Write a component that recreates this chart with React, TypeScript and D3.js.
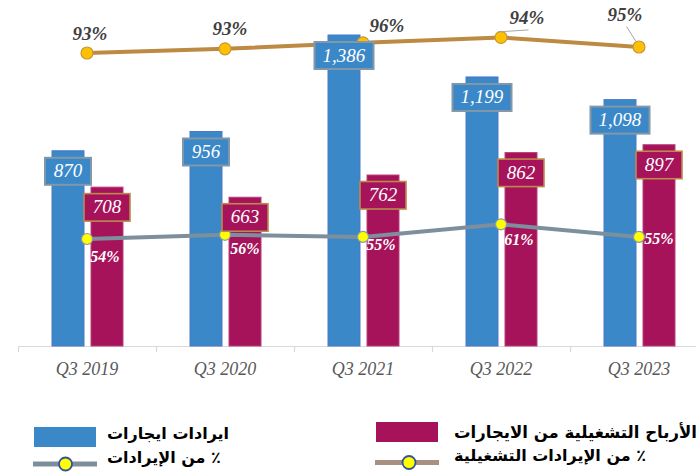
import React from "react";
import * as d3 from "d3";

// ---- data ----
const categories = ["Q3 2019", "Q3 2020", "Q3 2021", "Q3 2022", "Q3 2023"];
const rentalRevenue = [870, 956, 1386, 1199, 1098];
const operatingProfit = [708, 663, 762, 862, 897];
// % of revenues (grey line)
const pctOfRevenue = [54, 56, 55, 61, 55];
const pctOfRevenueLabels = ["54%", "56%", "55%", "61%", "55%"];
// % of operating revenues (gold line) – plotted values
const pctOfOperating = [94.0, 94.7, 95.7, 96.6, 95.0];
const pctOfOperatingLabels = ["93%", "93%", "96%", "94%", "95%"];

const seriesKeys = ["rev", "op"];
const legendRevenue = "ايرادات ايجارات";
const legendProfit = "الأرباح التشغيلية من الايجارات";
const legendPctRevenue = "٪ من الإيرادات";
const legendPctOperating = "٪ من الإيرادات التشغيلية";

// ---- label placement (style, not data) ----
const goldLabelOffsets: [number, number][] = [[3, -20], [5, -20], [24, -17], [26, -20], [-14, -33]];
const greyLabelOffsets: [number, number][] = [[18, 17], [20, 14], [18, 8], [18, 15], [20, 2]];

const W = 696, H = 473;
const BLUE = "#3a88c8";
const CRIMSON = "#a6135a";
const GOLD_LINE = "#bd8a44";
const GREY_LINE = "#7d8f9c";

const serif = "'Liberation Serif', 'Times New Roman', serif";
const arabic = "'DejaVu Sans', sans-serif";

export default function App() {
  const x0 = d3.scaleBand<string>().domain(categories).range([18, 708]).padding(0);
  const x1 = d3.scaleBand<string>().domain(seriesKeys).range([-35, 36]).paddingInner(0.18);
  const y = d3.scaleLinear().domain([0, 1542]).range([346, 0]);
  const yPct = d3.scaleLinear().domain([0, 100]).range([352.4, 142.4]);
  const yGold = d3.scaleLinear().domain([90, 100]).range([77, 17]);

  const cx = (c: string) => (x0(c) as number) + x0.bandwidth() / 2;

  const greyLine = d3
    .line<number>()
    .x((_, i) => cx(categories[i]))
    .y((v) => yPct(v));
  const goldLine = d3
    .line<number>()
    .x((_, i) => cx(categories[i]))
    .y((v) => yGold(v));

  const fmt = d3.format(",");
  const boxW = (s: string) => {
    const digits = s.replace(/[^0-9]/g, "").length;
    const commas = s.length - digits;
    return 16 + 10 * digits + 3 * commas;
  };

  const bars = categories.map((c, i) => ({
    c,
    rev: rentalRevenue[i],
    op: operatingProfit[i],
  }));

  const ticks = categories.map((c) => x0(c) as number);

  return (
    <svg
      width={W}
      height={H}
      style={{ position: "absolute", left: 0, top: 0, background: "#fff" }}
    >
      {/* axis */}
      <line x1={18} x2={W} y1={346.5} y2={346.5} stroke="#d9d9d9" strokeWidth={1.2} />
      {ticks.map((t, i) => (
        <line key={i} x1={t + 0.5} x2={t + 0.5} y1={346} y2={352} stroke="#d9d9d9" strokeWidth={1.2} />
      ))}
      {categories.map((c) => (
        <text
          key={c}
          x={cx(c)}
          y={375}
          textAnchor="middle"
          fontFamily={serif}
          fontStyle="italic"
          fontSize={18}
          fill="#595959"
        >
          {c}
        </text>
      ))}

      {/* bars */}
      {bars.map((b) => {
        const bx = cx(b.c);
        return (
          <g key={b.c}>
            <rect
              x={bx + (x1("rev") as number)}
              y={y(b.rev)}
              width={x1.bandwidth()}
              height={y(0) - y(b.rev)}
              fill={BLUE}
              stroke="#4a78c6"
              strokeWidth={1}
            />
            <rect
              x={bx + (x1("op") as number)}
              y={y(b.op)}
              width={x1.bandwidth()}
              height={y(0) - y(b.op)}
              fill={CRIMSON}
              stroke="#b8407a"
              strokeWidth={1}
            />
          </g>
        );
      })}

      {/* gold line */}
      <path d={goldLine(pctOfOperating) || ""} fill="none" stroke={GOLD_LINE} strokeWidth={4} />
      {pctOfOperating.map((v, i) => (
        <circle
          key={i}
          cx={cx(categories[i])}
          cy={yGold(v)}
          r={6}
          fill="#ffc000"
          stroke="#c8963a"
          strokeWidth={1.2}
        />
      ))}

      {/* grey line */}
      <path d={greyLine(pctOfRevenue) || ""} fill="none" stroke={GREY_LINE} strokeWidth={4} />
      {pctOfRevenue.map((v, i) => (
        <circle
          key={i}
          cx={cx(categories[i])}
          cy={yPct(v)}
          r={5.5}
          fill="#ffff00"
          stroke="#8a9aa6"
          strokeWidth={1.2}
        />
      ))}

      {/* bar value labels */}
      {bars.map((b) => {
        const bx = cx(b.c);
        const revX = bx + (x1("rev") as number) + x1.bandwidth() / 2;
        const opX = bx + (x1("op") as number) + x1.bandwidth() / 2;
        const rs = fmt(b.rev);
        const os = fmt(b.op);
        const rw = boxW(rs);
        const ow = boxW(os);
        const ry = y(b.rev) + 7;
        const oy = y(b.op) + 6.5;
        return (
          <g key={b.c}>
            <rect x={revX - rw / 2} y={ry} width={rw} height={27} fill={BLUE} stroke="#8297a8" strokeWidth={2} />
            <text
              x={revX}
              y={ry + 19.5}
              textAnchor="middle"
              fontFamily={serif}
              fontStyle="italic"
              fontSize={19}
              fill="#fff"
            >
              {rs}
            </text>
            <rect x={opX - ow / 2} y={oy} width={ow} height={27.5} fill={CRIMSON} stroke="#bb8a4c" strokeWidth={1.6} />
            <text
              x={opX}
              y={oy + 19.5}
              textAnchor="middle"
              fontFamily={serif}
              fontStyle="italic"
              fontSize={19}
              fill="#fff"
            >
              {os}
            </text>
          </g>
        );
      })}

      {/* grey line labels */}
      {pctOfRevenue.map((v, i) => (
        <text
          key={i}
          x={cx(categories[i]) + greyLabelOffsets[i][0]}
          y={yPct(v) + greyLabelOffsets[i][1] + 5.5}
          textAnchor="middle"
          fontFamily={serif}
          fontStyle="italic"
          fontWeight="bold"
          fontSize={16}
          fill="#fff"
        >
          {pctOfRevenueLabels[i]}
        </text>
      ))}

      {/* gold line labels */}
      {pctOfOperating.map((v, i) => {
        const px = cx(categories[i]);
        const py = yGold(v);
        const lx = px + goldLabelOffsets[i][0];
        const ly = py + goldLabelOffsets[i][1];
        const needLeader = Math.hypot(goldLabelOffsets[i][0], goldLabelOffsets[i][1]) > 30;
        return (
          <g key={i}>
            {needLeader && (
              <line x1={lx + 1.5} y1={ly + 12.5} x2={px - 3} y2={py - 5.5} stroke="#a6a6a6" strokeWidth={1} />
            )}
            <text
              x={lx}
              y={ly + 6.5}
              textAnchor="middle"
              fontFamily={serif}
              fontStyle="italic"
              fontWeight="bold"
              fontSize={19}
              fill="#404040"
            >
              {pctOfOperatingLabels[i]}
            </text>
          </g>
        );
      })}

      {/* legend */}
      <rect x={34} y={427} width={62} height={20} fill={BLUE} />
      <text x={107} y={439} direction="rtl" textAnchor="end" fontFamily={arabic} fontWeight="bold" fontSize={16} fill="#000">
        {legendRevenue}
      </text>
      <line x1={33} x2={97} y1={464} y2={464} stroke={GREY_LINE} strokeWidth={5} />
      <circle cx={65.5} cy={464} r={6.5} fill="#ffff00" stroke="#2f5597" strokeWidth={1.8} />
      <text x={107} y={463} direction="rtl" textAnchor="end" fontFamily={arabic} fontWeight="bold" fontSize={16} fill="#000">
        {legendPctRevenue}
      </text>

      <rect x={376} y={422} width={62} height={20} fill={CRIMSON} />
      <text x={454} y={438} direction="rtl" textAnchor="end" fontFamily={arabic} fontWeight="bold" fontSize={16.5} fill="#000">
        {legendProfit}
      </text>
      <line x1={375} x2={439} y1={462.5} y2={462.5} stroke="#a89080" strokeWidth={5} />
      <circle cx={409} cy={462.5} r={6.5} fill="#ffff00" stroke="#2f5597" strokeWidth={1.8} />
      <text x={454} y={461} direction="rtl" textAnchor="end" fontFamily={arabic} fontWeight="bold" fontSize={16} fill="#000">
        {legendPctOperating}
      </text>
    </svg>
  );
}
